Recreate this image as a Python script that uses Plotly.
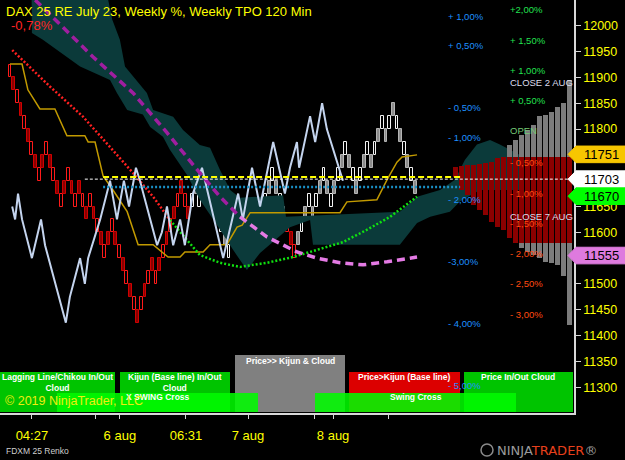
import plotly.graph_objects as go

# ---------------- data ----------------
brick_size = 25
brick_lows = [
    11900, 11875, 11850, 11825, 11800, 11775, 11750, 11725, 11700,
    11725, 11750, 11725, 11700, 11675, 11650, 11675, 11700, 11675, 11650,
    11675, 11650, 11625, 11650, 11625, 11600, 11575, 11550, 11575, 11600,
    11575, 11550, 11525, 11500, 11475, 11450, 11425, 11450, 11475, 11500,
    11525, 11500, 11525, 11550, 11575, 11600, 11625, 11650, 11675, 11650,
    11625, 11650, 11675, 11650, 11675, 11700, 11675, 11650, 11625, 11600,
    11575, 11550, 11575, 11600, 11625, 11600, 11575, 11600, 11575, 11600,
    11625, 11650, 11675, 11700, 11675, 11650, 11625, 11600, 11575, 11550,
    11575, 11600, 11625, 11650, 11625, 11650, 11675, 11700, 11675, 11650,
    11675, 11700, 11725, 11750, 11725, 11700, 11675, 11700, 11725, 11750,
    11725, 11750, 11775, 11800, 11775, 11800, 11825, 11800, 11775, 11750,
    11725, 11700, 11675,
]
red_brick_ranges = [(1, 50), (77, 79)]

kijun_x = [1.0, 4.3, 5.9, 9.2, 13.3, 16.6, 21.5, 22.4, 24.3, 26.5, 29.2, 33.1, 36.1, 40.2, 44.3,
           47.6, 48.9, 53.9, 55.8, 60.4, 63.2, 64.6, 66.8, 91.4, 93.3, 101.5, 104.3, 107.0, 108.4, 112.5]
kijun_y = [11926, 11926, 11876, 11839, 11839, 11787, 11787, 11775, 11775, 11709, 11682, 11640, 11576, 11576, 11552,
           11552, 11562, 11562, 11576, 11576, 11610, 11614, 11638, 11638, 11659, 11663, 11702, 11736, 11746, 11750]

chikou_x = [1.6, 2.4, 3.2, 4.3, 7.0, 9.5, 10.6, 16.3, 17.4, 20.2, 21.5, 22.4, 25.7, 28.4, 30.3, 32.2, 33.6,
            35.5, 36.6, 41.3, 42.6, 44.0, 45.7, 47.6, 48.9, 51.1, 53.6, 59.4, 63.5, 64.8, 67.3, 69.5, 73.1,
            76.3, 77.7, 79.6, 80.2, 83.2, 84.6, 86.5, 87.8, 92.2]
chikou_y = [11650, 11625, 11675, 11625, 11550, 11625, 11575, 11425, 11475, 11550, 11500, 11550, 11625, 11700,
            11625, 11700, 11650, 11725, 11700, 11575, 11600, 11650, 11575, 11625, 11575, 11675, 11725, 11550,
            11675, 11625, 11725, 11650, 11775, 11675, 11725, 11775, 11725, 11825, 11775, 11850, 11800, 11700]

tenkan_red_x = [1.6, 12.0, 21.0, 28.4, 34.7, 40.2, 44.8]
tenkan_red_y = [11953, 11882, 11824, 11766, 11715, 11669, 11624]
tenkan_green_x = [44.8, 49.5, 53.0, 58.5, 64.0, 71.4, 78.5, 85.1, 92.2, 98.8, 105.1, 112.5]
tenkan_green_y = [11624, 11585, 11556, 11541, 11533, 11541, 11552, 11566, 11581, 11605, 11630, 11669]

swing_fall_x = [7.9, 23.7, 34.7, 44.0, 53.0, 58.5, 64.0]
swing_fall_y = [12050, 11940, 11870, 11793, 11715, 11669, 11630]
swing_rise_x = [64.0, 71.4, 79.6, 85.1, 91.4, 97.7, 104.3, 112.5]
swing_rise_y = [11630, 11591, 11562, 11550, 11541, 11537, 11543, 11552]

cloud_top_x = [-3.1, 27.9, 29.0, 31.1, 32.5, 38.5, 40.2, 45.7, 48.4, 53.0, 55.8, 58.5, 61.3, 64.0, 75.8,
               76.6, 107.8, 112.5, 118.8, 122.9, 125.6, 128.9, 132.5, 135.2, 140.7]
cloud_top_y = [12150, 12050, 12012, 11973, 11921, 11870, 11837, 11824, 11798, 11769, 11764, 11721, 11682, 11667,
               11672, 11630, 11640, 11669, 11682, 11702, 11740, 11770, 11779, 11770, 11750]
cloud_bot_x = [-3.1, 6.9, 7.0, 10.0, 13.9, 20.2, 28.4, 30.3, 33.1, 37.4, 39.4, 42.9, 44.8, 49.5, 53.0, 57.7,
               62.1, 65.9, 69.5, 77.7, 83.2, 84.0, 107.8, 112.5, 116.1, 121.5, 124.3, 129.8, 140.7]
cloud_bot_y = [12070, 12070, 11986, 11973, 11953, 11921, 11895, 11870, 11837, 11828, 11804, 11785, 11760, 11711,
               11663, 11614, 11566, 11527, 11560, 11610, 11624, 11576, 11576, 11618, 11630, 11640, 11660, 11682, 11682]

# horizontal reference levels: price, first bar, last bar
hline_prices = [11707, 11703, 11688]
hline_start = [26.5, 21.5, 26.5]
hline_end = [124.3, 154.4, 124.3]

# weekly TPO profile columns, from the right edge leftwards
tpo_hi = [11895, 11851, 11843, 11833, 11827, 11825, 11808, 11798, 11789, 11779, 11769, 11746, 11744, 11736,
          11734, 11732, 11730, 11730, 11728, 11726]
tpo_lo = [11420, 11516, 11537, 11541, 11543, 11550, 11556, 11562, 11570, 11580, 11589, 11605, 11610, 11620,
          11634, 11643, 11653, 11672, 11682, 11707]
va_high = 11746
va_low = 11580

weekly_pct_labels = ["+ 1,00%", "+ 0,50%", "- 0,50%", "- 1,00%", "- 2,00%", "-3,00%", "- 4,00%", "- 5,00%"]
weekly_pct_prices = [12019, 11961, 11841, 11783, 11663, 11543, 11424, 11304]
up_pct_labels = ["+2,00%", "+ 1,50%", "+ 1,00%", "+ 0,50%"]
up_pct_prices = [12031, 11971, 11913, 11855]
dn_pct_labels = ["- 0,50%", "- 1,00%", "- 1,50%", "- 2,00%", "- 2,50%", "- 3,00%"]
dn_pct_prices = [11736, 11676, 11618, 11558, 11500, 11440]
session_labels = ["CLOSE 2 AUG", "OPEN", "CLOSE 7 AUG"]
session_prices = [11890, 11797, 11630]

marker_prices = [11751, 11703, 11670, 11555]
marker_colors = ["#f7c600", "#ffffff", "#00ff00", "#de7ade"]

price_ticks = [11300, 11350, 11400, 11450, 11500, 11550, 11600, 11650, 11700, 11750, 11800, 11850,
               11900, 11950, 12000]
price_tick_text = ["11300", "11350", "11400", "11450", "11500", "", "11600", "11650", "", "",
                   "11800", "11850", "11900", "11950", "12000"]
time_tick_bars = [7.0, 24.3, 31.1, 49.2, 66.2, 84.3, 89.5, 104.6]
time_tick_text = ["04:27", "", "6 aug", "06:31", "7 aug", "", "8 aug", ""]

# ---------------- figure ----------------
FONT = "Liberation Sans, Arial, sans-serif"
PW = 574.0   # plot width in px
PH = 413.0   # plot height in px

def px(xp):
    return xp / PW

def py(yp):
    return (PH - yp) / PH

fig = go.Figure()

# cloud
fig.add_trace(go.Scatter(
    x=cloud_top_x + cloud_bot_x[::-1], y=cloud_top_y + cloud_bot_y[::-1],
    mode="lines", fill="toself", fillcolor="#0b3a3a", line=dict(width=0, color="#0b3a3a"),
    hoverinfo="skip"))

# TPO profile (own hidden x axis measured in columns)
n_cols = len(tpo_hi)
col_x = [-(k + 0.5) for k in range(n_cols)]
fig.add_trace(go.Bar(
    x=col_x, y=[h - l for h, l in zip(tpo_hi, tpo_lo)], base=tpo_lo, width=0.84,
    xaxis="x2", marker=dict(color="#7c7c7c", line=dict(width=0)), hoverinfo="skip"))
r_x, r_y, r_b = [], [], []
for cx, h, l in zip(col_x, tpo_hi, tpo_lo):
    top, bot = min(h, va_high), max(l, va_low)
    if top > bot:
        r_x.append(cx); r_y.append(top - bot); r_b.append(bot)
fig.add_trace(go.Bar(
    x=r_x, y=r_y, base=r_b, width=0.84, xaxis="x2",
    marker=dict(color="#8b0000", line=dict(width=0)), hoverinfo="skip"))

# renko bricks
red_set = set()
for a, b in red_brick_ranges:
    red_set.update(range(a, b + 1))
bx = list(range(1, len(brick_lows) + 1))
fills, outlines = [], []
for n in bx:
    filled = (n % 2 == 0)
    if n in red_set:
        fills.append("#8b0000" if filled else "#000000")
        outlines.append("#d00000" if filled else "#ff1a1a")
    else:
        fills.append("#8c8c8c" if filled else "#000000")
        outlines.append("#b4b4b4" if filled else "#f4f4f4")
fig.add_trace(go.Bar(
    x=bx, y=[brick_size] * len(bx), base=brick_lows, width=0.78,
    marker=dict(color=fills, line=dict(color=outlines, width=1)), hoverinfo="skip"))

# indicator lines
fig.add_trace(go.Scatter(x=kijun_x, y=kijun_y, mode="lines",
                         line=dict(color="#c29a00", width=1.5), hoverinfo="skip"))
fig.add_trace(go.Scatter(x=tenkan_red_x, y=tenkan_red_y, mode="lines",
                         line=dict(color="#ff2020", width=2.5, dash="2px,2px"), hoverinfo="skip"))
fig.add_trace(go.Scatter(x=tenkan_green_x, y=tenkan_green_y, mode="lines",
                         line=dict(color="#10e010", width=2.5, dash="2px,2px"), hoverinfo="skip"))
fig.add_trace(go.Scatter(x=chikou_x, y=chikou_y, mode="lines",
                         line=dict(color="#c4d4ee", width=2), hoverinfo="skip"))
fig.add_trace(go.Scatter(x=swing_fall_x, y=swing_fall_y, mode="lines",
                         line=dict(color="#a01ea0", width=3.5, dash="8px,5px"), hoverinfo="skip"))
fig.add_trace(go.Scatter(x=swing_rise_x, y=swing_rise_y, mode="lines",
                         line=dict(color="#e47ae4", width=3.5, dash="8px,5px"), hoverinfo="skip"))

shapes = []
hl_styles = [dict(color="#ffff00", width=2, dash="6px,3px"),
             dict(color="#ffffff", width=1, dash="3px,2px"),
             dict(color="#1a8fc4", width=2.5, dash="2px,2px")]
for p, x0, x1, st in zip(hline_prices, hline_start, hline_end, hl_styles):
    shapes.append(dict(type="line", xref="x", yref="y", x0=x0, x1=x1, y0=p, y1=p,
                       line=st, layer="above"))

# signal boxes at the bottom
boxes = [
    (0, 115, 372, "#00c400"),
    (120, 230, 372, "#00c400"),
    (235, 345, 355, "#808080"),
    (349, 460, 372, "#dc0000"),
    (464, 573, 372, "#00c400"),
]
for x0, x1, yt, c in boxes:
    shapes.append(dict(type="rect", xref="paper", yref="paper", x0=px(x0), x1=px(x1),
                       y0=py(412), y1=py(yt), fillcolor=c, line=dict(width=0), layer="above"))
for x0, x1 in [(57, 258), (315, 516)]:
    shapes.append(dict(type="rect", xref="paper", yref="paper", x0=px(x0), x1=px(x1),
                       y0=py(412), y1=py(393), fillcolor="rgba(0,250,0,0.88)",
                       line=dict(width=0), layer="above"))

# price markers on the axis
half = 8.3 / 0.516
tip, bx0, bx1 = px(568), px(576), px(625)
for p, c in zip(marker_prices, marker_colors):
    path = (f"M {tip},{p} L {bx0},{p + half} L {bx1},{p + half} "
            f"L {bx1},{p - half} L {bx0},{p - half} Z")
    shapes.append(dict(type="path", xref="paper", yref="y", path=path,
                       fillcolor=c, line=dict(color=c, width=1), layer="above"))

# logo circle
shapes.append(dict(type="circle", xref="paper", yref="paper", x0=px(481), x1=px(493),
                   y0=py(456), y1=py(444), line=dict(color="#8a8a8a", width=1.5), layer="above"))

annotations = []

def add_text(text, x, y, color, size, xref="paper", yref="paper", xanchor="left",
             yanchor="middle", family=FONT):
    annotations.append(dict(text=text, x=x, y=y, xref=xref, yref=yref, xanchor=xanchor,
                            yanchor=yanchor, showarrow=False,
                            font=dict(color=color, size=size, family=family)))

add_text("DAX 25 RE July 23, Weekly %, Weekly TPO 120 Min", px(4), py(12), "#ffff00", 13)
add_text("-0,78%", px(9), py(26), "#ff2424", 13)

for t, p in zip(weekly_pct_labels, weekly_pct_prices):
    add_text(t, px(446), p, "#1e90ff", 9.5, yref="y")
for t, p in zip(up_pct_labels, up_pct_prices):
    add_text(t, px(508), p, "#22e050", 9.5, yref="y")
for t, p in zip(dn_pct_labels, dn_pct_prices):
    add_text(t, px(508), p, "#ff4a10", 9.5, yref="y")
sess_colors = ["#dcdcec", "#74c874", "#dcdcec"]
for t, p, c in zip(session_labels, session_prices, sess_colors):
    add_text(t, px(508), p, c, 9.5, yref="y")

for p in marker_prices:
    add_text(str(p), px(601), p, "#000000", 13, yref="y", xanchor="center")

box_texts = [
    ("<b>Lagging Line/Chikou In/Out<br>Cloud</b>", 57, 382),
    ("<b>Kijun (Base line) In/Out<br>Cloud</b>", 175, 382),
    ("<b>Price>> Kijun & Cloud</b>", 290, 361),
    ("<b>Price>Kijun (Base line)</b>", 404, 377),
    ("<b>Price In/Out Cloud</b>", 518, 377),
    ("<b>X SWING Cross</b>", 158, 397),
    ("<b>Swing Cross</b>", 416, 397),
]
for t, x, y in box_texts:
    add_text(t, px(x), py(y), "#ffffff", 8.5, xanchor="center")

add_text("\u00a9 2019 NinjaTrader, LLC", px(3), py(401), "#eeee10", 12.5)
add_text("FDXM 25 Renko", px(4), py(451), "#cfcfcf", 8.5)
add_text('<span style="color:#9a9a9a">NINJA</span><span style="color:#e8401c">TRADER</span>'
         '<span style="color:#9a9a9a">\u00ae</span>',
         px(495), py(450), "#9a9a9a", 13, family="DejaVu Sans, sans-serif")

fig.update_layout(
    width=625, height=460,
    margin=dict(l=0, r=51, t=0, b=47, pad=0),
    paper_bgcolor="#000000", plot_bgcolor="#000000",
    showlegend=False, barmode="overlay", bargap=0,
    shapes=shapes, annotations=annotations,
    xaxis=dict(range=[-1.74, 155.5], showgrid=False, zeroline=False, showline=True,
               linecolor="#d8d8d8", linewidth=1.5, ticks="outside", tickcolor="#d8d8d8",
               ticklen=4, tickvals=time_tick_bars, ticktext=time_tick_text,
               tickfont=dict(color="#ffff00", size=13, family=FONT), ticklabelstandoff=6,
               fixedrange=True),
    xaxis2=dict(range=[-95.4, 0.25], overlaying="x", visible=False, fixedrange=True),
    yaxis=dict(range=[11250, 12050], side="right", showgrid=False, zeroline=False,
               showline=True, linecolor="#d8d8d8", linewidth=1.5, ticks="outside",
               tickcolor="#d8d8d8", ticklen=5, tickvals=price_ticks, ticktext=price_tick_text,
               tickfont=dict(color="#ffff00", size=12.5, family=FONT), fixedrange=True),
)

fig.write_html("out.html")
